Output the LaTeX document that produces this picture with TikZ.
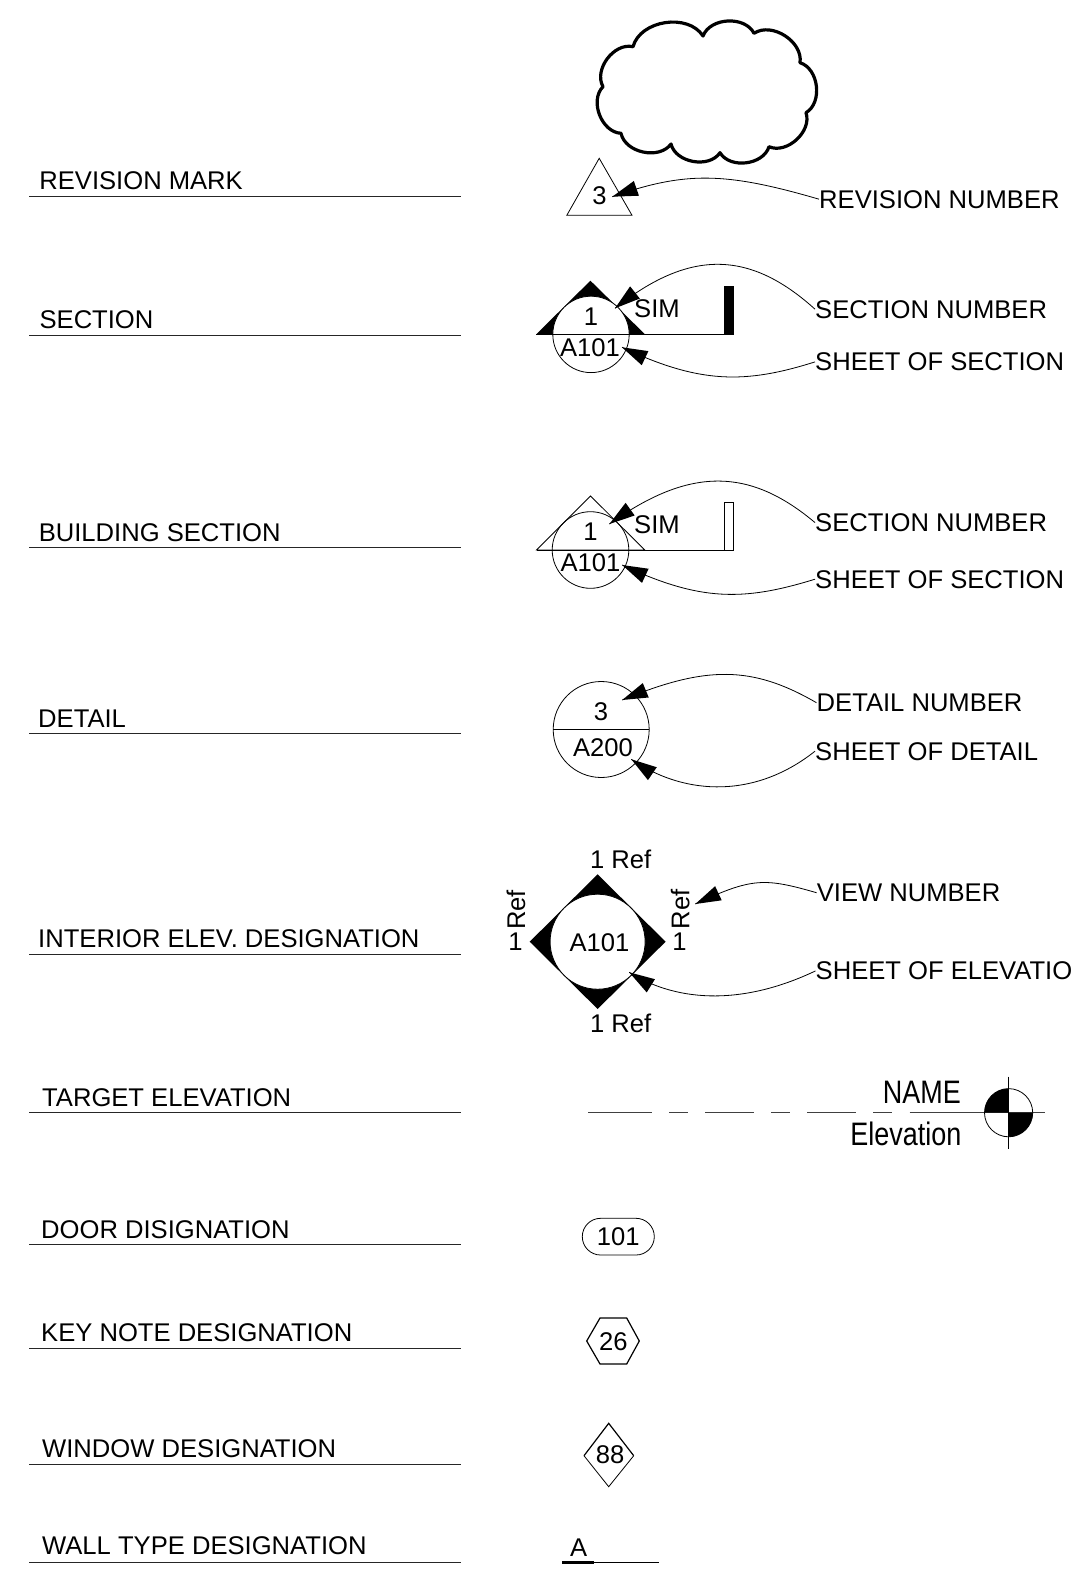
\documentclass[tikz,border=0pt]{standalone}
\usepackage{fontspec}
\setmainfont{Liberation Sans}
\newfontfamily\narrowfont[FakeStretch=0.83]{Liberation Sans}
\usetikzlibrary{calc}
\newcommand{\leadhead}[2]{\fill (#1) -- ($(#1)!25.5pt!(#2)!7.8pt!90:(#1)$) -- ($(#1)!25.5pt!(#2)!7.8pt!-90:(#1)$) -- cycle;}
\tikzset{
  x=1pt,y=-1pt,
  lab/.style={anchor=base west,inner sep=0pt,yshift=-0.7pt,font=\fontsize{25.6}{30}\selectfont},
  txt/.style={anchor=base,inner sep=0pt,font=\fontsize{25.6}{30}\selectfont},
  tall/.style={inner sep=0pt,font=\narrowfont\fontsize{32.5}{36}\selectfont},
  rule/.style={line width=1pt,draw=black!85},
  thin/.style={line width=0.8pt},
  lead/.style={line width=0.8pt},
  ring/.style={circle,draw,line width=0.8pt,fill=white,inner sep=0pt,outer sep=0pt,minimum size=#1},
}
\begin{document}
\begin{tikzpicture}
\path[use as bounding box,fill=white] (0,0) rectangle (1072,1593);

% left column
\node[lab] (t1) at (39.2,188.7) {REVISION MARK};
\node[lab] (t2) at (39.4,327.7) {SECTION};
\node[lab] (t3) at (38.6,540.7) {BUILDING SECTION};
\node[lab] (t4) at (38,727) {DETAIL};
\node[lab] (t5) at (38,947) {INTERIOR ELEV. DESIGNATION};
\node[lab] (t6) at (42,1105.5) {TARGET ELEVATION};
\node[lab] (t7) at (41,1237.5) {DOOR DISIGNATION};
\node[lab] (t8) at (41,1341) {KEY NOTE DESIGNATION};
\node[lab] (t9) at (42,1456.5) {WINDOW DESIGNATION};
\node[lab] (t10) at (42,1554) {WALL TYPE DESIGNATION};
\foreach \yy in {196,335,547.7,733.7,954.3,1112.8,1244.9,1348.6,1464.4,1562}
  \draw[rule] (29,\yy) -- (461,\yy);

% cloud
\draw[line width=3.2pt,line join=round]
  (703,36) to[bend left=66] (754,33.3) to[bend left=66] (800,62.7)
  to[bend left=66] (806,112.7) to[bend left=66] (769,146.7)
  to[bend left=66] (720,152.7) to[bend left=66] (671,144)
  to[bend left=66] (621,133.3) to[bend left=66] (603,86.7)
  to[bend left=66] (633,46.7) to[bend left=66] (703,36) -- cycle;

% revision mark
\draw[thin,line join=miter] (599.2,158.3) -- (632,215.3) -- (566.8,215.3) -- cycle;
\node[txt] (revn) at (599.6,204) {3};
\coordinate (revtip) at (612.3,196.7);
\node[lab] (revlab) at (819,207.3) {REVISION NUMBER};
\draw[lead] (revlab.west) .. controls (724,171.5) and (685,171.5) .. (revtip);
\leadhead{revtip}{685,171.5}

% section
\fill (590.4,280.7) -- (645,334.3) -- (536.2,334.3) -- cycle;
\node[ring=76.4pt] (sc) at (591,334.4) {};
\draw[thin] (536.2,334.3) -- (734,334.3);
\fill (723.5,286) rectangle (734,334.3);
\node[txt] (s1) at (591,325) {1};
\node[txt] (s2) at (590,356) {A101};
\node[lab] (s3) at (634,316.7) {SIM};
\coordinate (stip1) at (615,308.3);
\coordinate (stip2) at (622,347.3);
\node[lab] (slab1) at (815,317.3) {SECTION NUMBER};
\node[lab] (slab2) at (815,370) {SHEET OF SECTION};
\draw[lead] (slab1.west) .. controls (749,249.5) and (689,249.5) .. (stip1);
\draw[lead] (slab2.west) .. controls (745,384) and (700,384) .. (stip2);
\leadhead{stip1}{689,249.5}
\leadhead{stip2}{700,384}

% building section
\draw[thin] (590.5,496) -- (644.8,550) -- (536.5,550) -- cycle;
\node[circle,draw,line width=0.8pt,inner sep=0pt,minimum size=76.6pt] (bc) at (590.5,550) {};
\draw[thin] (536.5,550) -- (733.5,550);
\draw[thin] (724,502.3) rectangle (733.5,550);
\node[txt] (b1) at (590.5,540.7) {1};
\node[txt] (b2) at (590.5,571) {A101};
\node[lab] (b3) at (634,532.3) {SIM};
\coordinate (btip1) at (609.4,524);
\coordinate (btip2) at (622.2,565);
\node[lab] (blab1) at (815,530.7) {SECTION NUMBER};
\node[lab] (blab2) at (815,587.3) {SHEET OF SECTION};
\draw[lead] (blab1.west) .. controls (749,467) and (689,467) .. (btip1);
\draw[lead] (blab2.west) .. controls (743,601.4) and (700,601.4) .. (btip2);
\leadhead{btip1}{689,467}
\leadhead{btip2}{700,601.4}

% detail
\node[ring=96pt] (dc) at (601.2,729.5) {};
\draw[thin] (dc.west) -- (dc.east);
\node[txt] (d1) at (601,720) {3};
\node[txt] (d2) at (603,756.7) {A200};
\coordinate (dtip1) at (622.2,700);
\coordinate (dtip2) at (631.3,759.3);
\node[lab] (dlab1) at (816.5,710.7) {DETAIL NUMBER};
\node[lab] (dlab2) at (815,759.3) {SHEET OF DETAIL};
\draw[lead] (dlab1.west) .. controls (752,665.4) and (706,665.4) .. (dtip1);
\draw[lead] (dlab2.west) .. controls (757,797.3) and (687,797.3) .. (dtip2);
\leadhead{dtip1}{706,665.4}
\leadhead{dtip2}{687,797.3}

% interior elevation
\fill (597.6,874.3) -- (665.6,941.7) -- (597.6,1009) -- (529.7,941.7) -- cycle;
\node[ring=95pt] (ic) at (597.6,941.7) {};
\node[txt] (i0) at (599.5,951.7) {A101};
\node[txt] (i1) at (620.7,868.4) {1 Ref};
\node[txt] (i2) at (620.7,1032.4) {1 Ref};
\node[txt,rotate=90] (i3a) at (525,910) {Ref};
\node[txt] (i3b) at (515.5,950.7) {1};
\node[txt,rotate=90] (i4a) at (689.3,909.5) {Ref};
\node[txt] (i4b) at (679.5,950.7) {1};
\coordinate (itip1) at (695.3,904);
\coordinate (itip2) at (629.2,972.3);
\node[lab] (ilab1) at (816.6,900.7) {VIEW NUMBER};
\node[lab] (ilab2) at (815.5,979) {SHEET OF ELEVATIO};
\draw[lead] (ilab1.west) .. controls (764,877.6) and (752,877.6) .. (itip1);
\draw[lead] (ilab2.west) .. controls (746,1004) and (680,1004) .. (itip2);
\leadhead{itip1}{752,877.6}
\leadhead{itip2}{680,1004}

% target elevation
\draw[line width=1pt,draw=black!75]
  (588.4,1112.7) -- (651.8,1112.7) (669.3,1112.7) -- (687.5,1112.7)
  (705.3,1112.7) -- (753.5,1112.7) (771,1112.7) -- (789.6,1112.7)
  (807.4,1112.7) -- (855.6,1112.7) (873.4,1112.7) -- (891.6,1112.7)
  (909.5,1112.7) -- (1045,1112.7);
\node[ring=48.2pt,fill=none] (tc) at (1008.6,1112.7) {};
\fill (1008.6,1112.7) -- (984.5,1112.7) .. controls (984.5,1099.4) and (995.3,1088.6) .. (1008.6,1088.6) -- cycle;
\fill (1008.6,1112.7) -- (1032.7,1112.7) .. controls (1032.7,1126) and (1021.9,1136.8) .. (1008.6,1136.8) -- cycle;
\draw[line width=0.8pt] (1008.6,1076.7) -- (1008.6,1149.3);
\node[tall,anchor=base east] (tn) at (961,1103.3) {NAME};
\node[tall,anchor=base east] (te) at (961.5,1145) {Elevation};

% door
\draw[thin,rounded corners=18.3pt] (582.3,1218.3) rectangle (654.3,1255);
\node[txt] (door) at (618.3,1245.7) {101};

% key note
\draw[line width=1.2pt,line join=miter] (600,1318) -- (626.7,1318) -- (639.3,1341) -- (626.7,1364) -- (600,1364) -- (586.7,1341) -- cycle;
\node[txt] (key) at (613.3,1350) {26};

% window
\draw[thin] (584,1455.7) -- (608.7,1486.7) -- (633.7,1455.7);
\draw[line width=1.2pt] (584,1455.7) -- (608.7,1423.3) -- (633.7,1455.7);
\node[txt] (win) at (610,1463.3) {88};

% wall
\node[txt] (wall) at (578.7,1556) {A};
\draw[line width=3pt] (562.3,1562.3) -- (594,1562.3);
\draw[line width=1pt] (594,1562.3) -- (659.3,1562.3);
\end{tikzpicture}
\end{document}
